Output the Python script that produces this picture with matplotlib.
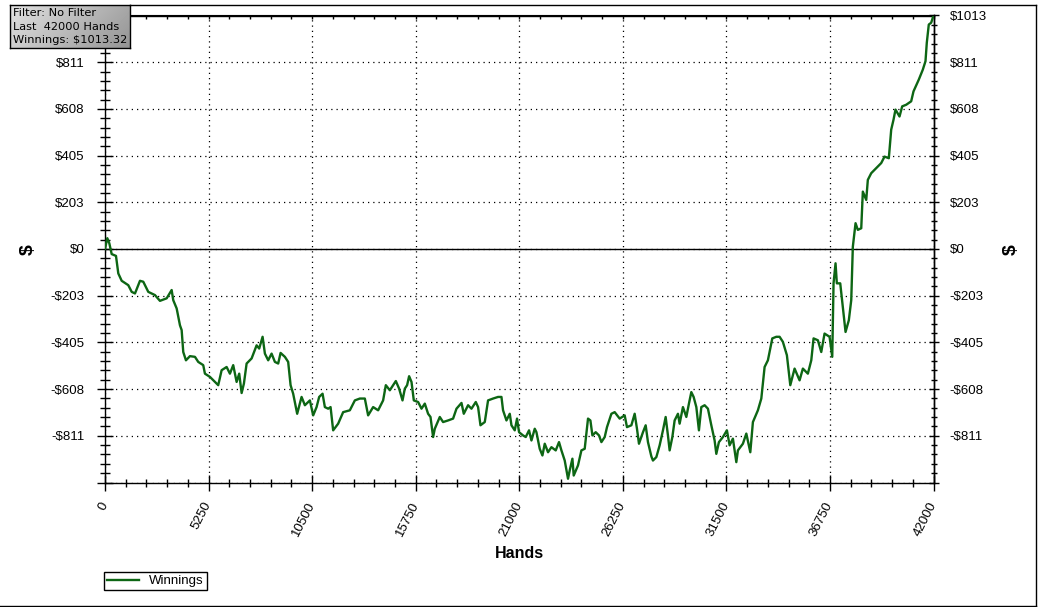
import numpy as np
import matplotlib
matplotlib.use('Agg')
import matplotlib.pyplot as plt
import matplotlib.transforms as mtransforms
from matplotlib.ticker import FixedLocator, MultipleLocator, FuncFormatter, NullFormatter
from matplotlib.lines import Line2D

# ---------------- data ----------------
hands = [0, 117, 218, 339, 557, 674, 846, 1180, 1353, 1520, 1773, 1940, 2194, 2533, 2786, 3126, 3379, 3460,
         3633, 3800, 3886, 3967, 4104, 4306, 4560, 4727, 4980, 5066, 5320, 5573, 5740, 5912, 6166, 6333,
         6500, 6672, 6804, 6926, 7042, 7179, 7432, 7686, 7817, 7989, 8106, 8273, 8445, 8613, 8780, 8901,
         9119, 9286, 9408, 9539, 9742, 9965, 10133, 10386, 10553, 10725, 10857, 11029, 11146, 11313, 11435,
         11566, 11820, 12073, 12412, 12666, 12919, 13172, 13339, 13593, 13846, 14099, 14236, 14439, 14743,
         14910, 15082, 15199, 15315, 15417, 15538, 15655, 15873, 16045, 16212, 16379, 16501, 16633, 16719,
         16972, 17139, 17393, 17646, 17818, 18072, 18188, 18406, 18578, 18796, 18913, 19034, 19252, 19419,
         19673, 19926, 20098, 20179, 20351, 20519, 20605, 20772, 20888, 20990, 21192, 21329, 21496, 21618,
         21785, 21871, 22038, 22175, 22292, 22459, 22631, 22849, 23016, 23138, 23305, 23472, 23558, 23695,
         23761, 23979, 24151, 24318, 24486, 24607, 24709, 24876, 25043, 25165, 25332, 25448, 25671, 25838,
         26091, 26345, 26461, 26684, 26851, 26968, 27069, 27272, 27409, 27525, 27697, 27778, 27950, 28117,
         28285, 28422, 28538, 28624, 28761, 28877, 29045, 29130, 29298, 29470, 29602, 29723, 29840, 29977,
         30109, 30230, 30398, 30565, 30737, 30904, 30990, 31122, 31325, 31527, 31664, 31831, 32004, 32085,
         32338, 32511, 32713, 32845, 33098, 33271, 33438, 33605, 33828, 34030, 34198, 34365, 34568, 34740,
         34958, 35211, 35378, 35631, 35804, 35920, 36138, 36310, 36477, 36731, 36867, 36933, 37034, 37100,
         37272, 37404, 37541, 37708, 37830, 37911, 38048, 38164, 38337, 38418, 38590, 38671, 38843, 39096,
         39350, 39517, 39735, 39856, 39973, 40074, 40277, 40413, 40616, 40869, 40986, 41254, 41457, 41594,
         41660, 41761, 41883, 42000]
winnings = [0, 47, 25, -22, -30, -106, -138, -157, -186, -193, -138, -142, -186, -200, -225, -214, -178, -222,
            -258, -331, -352, -447, -483, -465, -468, -490, -504, -541, -555, -577, -591, -526, -512, -541,
            -504, -577, -541, -625, -584, -497, -475, -418, -432, -381, -454, -483, -454, -490, -497, -451,
            -468, -490, -591, -628, -715, -642, -678, -657, -722, -686, -642, -628, -686, -693, -686,
            -787, -758, -708, -700, -657, -649, -649, -722, -686, -700, -657, -591, -613, -573,
            -606, -657, -606, -591, -552, -577, -657, -664, -693, -671, -715, -729, -816, -780,
            -729, -751, -744, -736, -693, -668, -715, -678, -693, -664, -686, -765, -751, -657,
            -649, -642, -642, -700, -744, -715, -765, -787, -736, -795, -809, -816, -787, -831,
            -780, -795, -867, -896, -845, -882, -860, -874, -838, -874, -918, -997, -961, -910,
            -983, -939, -874, -867, -736, -744, -809, -795, -809, -838, -816, -773, -715, -708,
            -736, -722, -773, -765, -715, -780, -845, -795, -765, -838, -900, -918, -903, -852,
            -787, -729, -809, -874, -816, -744, -715, -758, -686, -729, -671, -621, -642, -686,
            -787, -686, -678, -693, -765, -831, -889, -838, -816, -787, -852, -823, -925, -874,
            -845, -801, -882, -751, -700, -649, -512, -483, -388, -381, -381, -403, -461, -591,
            -519, -570, -519, -541, -483, -388, -396, -447, -367, -381, -468, -149, -62, -149,
            -149, -251, -360, -309, -222, 10, 112, 83, 90, 249, 213, 300, 329, 351,
            373, 401, 394, 518, 561, 605, 575, 619, 626, 641, 684, 735, 778, 815,
            895, 974, 982, 1013.32]

total_won = 1013.32
x_major = [0, 5250, 10500, 15750, 21000, 26250, 31500, 36750, 42000]
y_major = [total_won * k / 5 for k in range(-5, 6)]
header_lines = ["Filter: No Filter", "Last  42000 Hands", "Winnings: $1013.32"]
series_name = "Winnings"
x_title = "Hands"
y_title = "$"

# ---------------- figure ----------------
W, H = 1038, 607
fig = plt.figure(figsize=(W / 100, H / 100), dpi=100)
fig.patch.set_facecolor('white')
L, R, T, B = 105, 933.5, 15.5, 482.5
ax = fig.add_axes([L / W, 1 - B / H, (R - L) / W, (B - T) / H])

green = '#0d6614'
ax.plot(hands, winnings, color=green, lw=1.7, zorder=3)
ax.set_xlim(0, 42000)
ax.set_ylim(-total_won, total_won)
ax.axhline(0, color='black', lw=1.0, zorder=2)

FS = 9.5


def money(v, pos=None):
    r = int(round(v))
    return ('-$%d' % abs(r)) if r < 0 else ('$%d' % r)


minor_y = [total_won * k / 25 for k in range(-25, 26)]

# y axis (left) - top label hidden behind the header box in the original
ax.yaxis.set_major_locator(FixedLocator(y_major))
ax.yaxis.set_minor_locator(FixedLocator(minor_y))
ax.yaxis.set_major_formatter(FuncFormatter(
    lambda v, p: '' if (v < -total_won + 1 or v > total_won - 1) else money(v)))
# x axis
ax.xaxis.set_major_locator(FixedLocator(x_major))
ax.xaxis.set_minor_locator(MultipleLocator(1050))
ax.set_xticklabels([str(v) for v in x_major], rotation=63, ha='right', va='center',
                   rotation_mode='anchor', family='Liberation Sans', size=FS)
offset = mtransforms.ScaledTranslation(7 / 100, 0, fig.dpi_scale_trans)
for lab in ax.get_xticklabels():
    lab.set_transform(lab.get_transform() + offset)

ax.tick_params(axis='y', which='major', direction='inout', length=11.5, width=1, pad=9.0, color='black')
ax.tick_params(axis='y', which='minor', direction='inout', length=7, width=1)
ax.tick_params(axis='x', which='major', direction='inout', length=12, width=1, pad=8.5)
ax.tick_params(axis='x', which='minor', direction='inout', length=6, width=1)
for lab in ax.get_yticklabels():
    lab.set_fontfamily('Liberation Sans'); lab.set_fontsize(FS)

ax.grid(True, which='major', color='black', linestyle=(0, (1, 3.2)), lw=0.9, zorder=1)
for sp in ax.spines.values():
    sp.set_linewidth(1.0)
    sp.set_color('black')

# right axis
ra = ax.secondary_yaxis('right')
ra.yaxis.set_major_locator(FixedLocator(y_major))
ra.yaxis.set_minor_locator(FixedLocator(minor_y))
ra.yaxis.set_major_formatter(FuncFormatter(lambda v, p: '' if v < -total_won + 1 else money(v)))
ra.tick_params(which='major', direction='inout', length=6.5, width=1, pad=8.5)
ra.tick_params(which='minor', direction='inout', length=4.5, width=1)
for lab in ra.get_yticklabels():
    lab.set_fontfamily('Liberation Sans'); lab.set_fontsize(FS)
ra.spines['right'].set_linewidth(1.0)

# top axis ticks
ta = ax.secondary_xaxis('top')
ta.xaxis.set_major_locator(FixedLocator(x_major))
ta.xaxis.set_minor_locator(MultipleLocator(1050))
ta.xaxis.set_major_formatter(NullFormatter())
ta.tick_params(which='major', direction='in', length=3, width=1)
ta.tick_params(which='minor', direction='in', length=3, width=1)

# titles
fig.text(519.5 / W, 1 - 553 / H, x_title, ha='center', va='center',
         fontsize=11.5, fontweight='bold', family='Liberation Sans')
fig.text(28 / W, 1 - 249.5 / H, y_title, ha='center', va='center', rotation=90,
         fontsize=14, fontweight='bold', family='Liberation Sans')
fig.text(1011 / W, 1 - 249.5 / H, y_title, ha='center', va='center', rotation=90,
         fontsize=14, fontweight='bold', family='Liberation Sans')

# legend
handle = Line2D([], [], color=green, lw=1.7)
leg = fig.legend([handle], [series_name], loc='upper left',
                 bbox_to_anchor=(104 / W, 1 - 572 / H), fancybox=False, framealpha=1,
                 edgecolor='black', prop=dict(family='Liberation Sans', size=FS),
                 handlelength=2.4, handletextpad=0.8, borderpad=0.22, borderaxespad=0)
leg.get_frame().set_linewidth(1.0)

# header box with gradient
hb = fig.add_axes([10 / W, 1 - 48 / H, 120 / W, 43 / H])
gx, gy = np.meshgrid(np.linspace(0, 1, 120), np.linspace(0, 1, 43))
grad = 0.88 - 0.30 * (0.75 * gx + 0.25 * gy)
hb.imshow(grad, cmap='gray', vmin=0, vmax=1, aspect='auto', extent=(0, 1, 1, 0))
hb.set_xlim(0, 1); hb.set_ylim(1, 0)
hb.set_xticks([]); hb.set_yticks([])
for sp in hb.spines.values():
    sp.set_linewidth(1.0); sp.set_color('black')
for i, t in enumerate(header_lines):
    hb.text(3 / 120, (8 + 13.5 * i) / 43, t, ha='left', va='center', fontsize=8.2,
            family='DejaVu Sans', color='black')

# outer frame (top, right & bottom)
fig.add_artist(Line2D([1035.5 / W, 1035.5 / W], [1 - 605.5 / H, 1 - 5 / H], color='black', lw=1.0,
                      transform=fig.transFigure))
fig.add_artist(Line2D([0, 1035.5 / W], [1 - 605.5 / H, 1 - 605.5 / H], color='black', lw=1.0,
                      transform=fig.transFigure))
fig.add_artist(Line2D([130 / W, 1035.5 / W], [1 - 5 / H, 1 - 5 / H], color='black', lw=1.0,
                      transform=fig.transFigure))

fig.savefig('out.png', dpi=100)
